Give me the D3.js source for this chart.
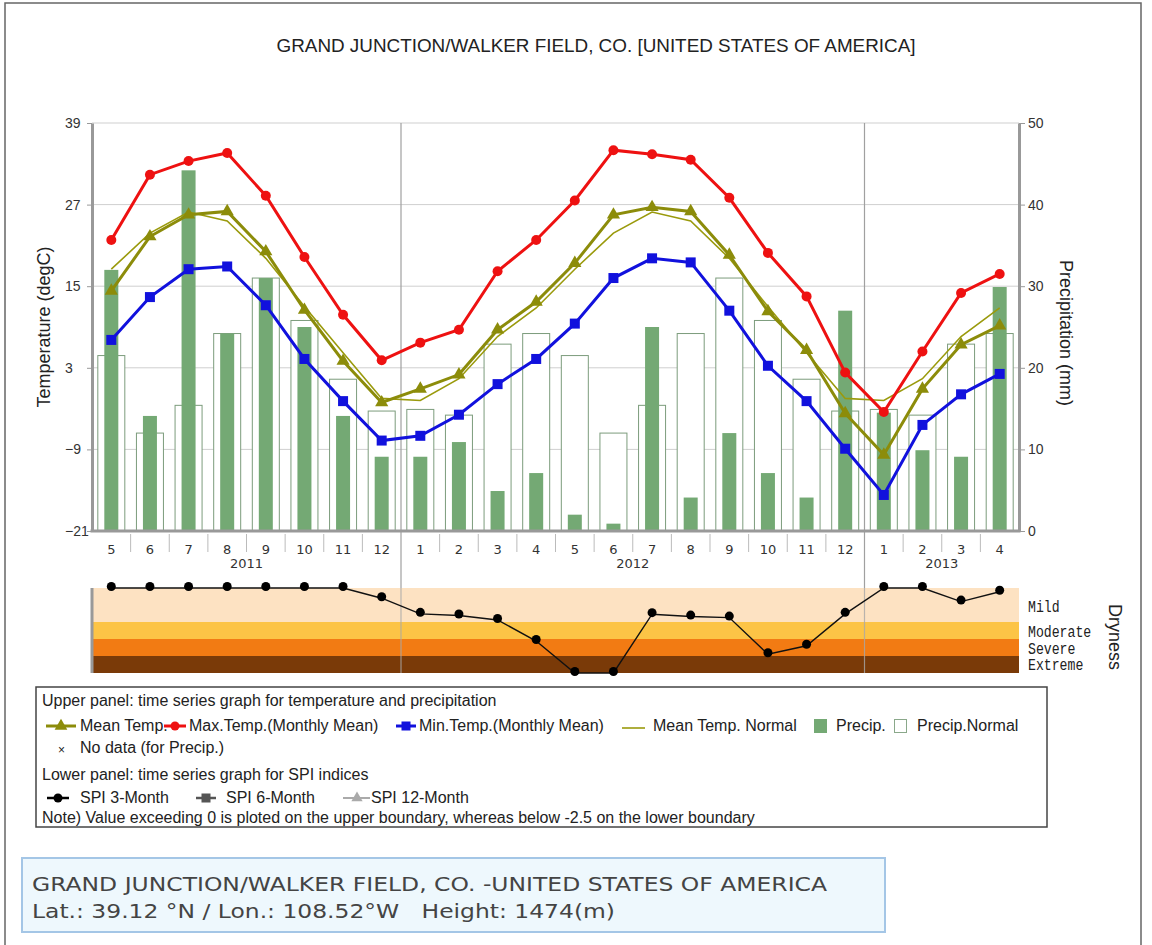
<!DOCTYPE html>
<html>
<head>
<meta charset="utf-8">
<script src="https://cdn.jsdelivr.net/npm/d3@7/dist/d3.min.js"></script>
<style>
  body { margin: 0; background: #fff; }
  svg { display: block; font-family: "Liberation Sans", Arial, sans-serif; }
</style>
</head>
<body>
<div id="chart"></div>
<script>
// ---- data ----
const periods = ["2011-05","2011-06","2011-07","2011-08","2011-09","2011-10","2011-11","2011-12",
  "2012-01","2012-02","2012-03","2012-04","2012-05","2012-06","2012-07","2012-08","2012-09","2012-10","2012-11","2012-12",
  "2013-01","2013-02","2013-03","2013-04"];
const years = ["2011", "2012", "2013"];

const maxTemp  = [21.8, 31.4, 33.4, 34.6, 28.3, 19.3, 10.8, 4.1, 6.7, 8.6, 17.2, 21.8, 27.6, 35.0, 34.4, 33.6, 28.0, 19.9, 13.5, 2.3, -3.5, 5.4, 14.0, 16.8];
const meanTemp = [14.3, 22.3, 25.5, 26.0, 20.1, 11.5, 4.0, -2.1, -0.1, 2.0, 8.6, 12.7, 18.4, 25.5, 26.6, 26.0, 19.6, 11.3, 5.6, -3.7, -9.8, -0.1, 6.4, 9.2];
const minTemp  = [7.1, 13.4, 17.5, 17.9, 12.2, 4.3, -1.9, -7.7, -7.0, -3.9, 0.6, 4.3, 9.5, 16.2, 19.1, 18.5, 11.4, 3.3, -1.9, -8.9, -15.7, -5.4, -0.9, 2.1];
// climatological normals, Jan..Dec
const meanTempNormal = [-1.8, 1.4, 7.6, 11.8, 17.5, 22.8, 25.9, 24.6, 19.1, 12.0, 5.2, -1.5];
const precip   = [32.0, 14.1, 44.2, 24.2, 31.0, 25.0, 14.1, 9.1, 9.1, 10.9, 4.9, 7.1, 2.0, 0.9, 25.0, 4.1, 12.0, 7.1, 4.1, 27.0, 14.5, 9.9, 9.1, 29.9];
const precipNormal = [14.9, 14.2, 22.9, 24.2, 21.5, 12.0, 15.4, 24.2, 31.0, 25.8, 18.6, 14.7];
const spi3 = [0, 0, 0, 0, 0, 0, 0, -0.30, -0.76, -0.81, -0.94, -1.56, -2.5, -2.5, -0.77, -0.84, -0.87, -1.95, -1.70, -0.76, 0, 0, -0.40, -0.11];

const tempTicks = [39, 27, 15, 3, -9, -21];
const precipTicks = [0, 10, 20, 30, 40, 50];
const dryClasses = ["Mild", "Moderate", "Severe", "Extreme"];
const dryBounds = [0, -1, -1.5, -2, -2.5];

// ---- layout ----
const W = 1152, H = 945;
const L = 92, R = 1019, T = 123, B = 531;
const spiTop = 588, spiBot = 673;

const month = p => +p.slice(5);

var svg = d3.select("#chart").append("svg")
  .attr("width", W)
  .attr("height", H);

var x = d3.scaleBand().domain(periods).range([L, R]);
var cx = p => x(p) + x.bandwidth() / 2;
var yT = d3.scaleLinear().domain([-21, 39]).range([B, T]);
var yP = d3.scaleLinear().domain([0, 50]).range([B, T]);
var yS = d3.scaleLinear().domain([-2.5, 0]).range([spiBot, spiTop]);

const rows = periods.map((p, i) => ({
  p: p, max: maxTemp[i], mean: meanTemp[i], min: minTemp[i],
  normal: meanTempNormal[month(p) - 1],
  pr: precip[i], prN: precipNormal[month(p) - 1],
  spi: Math.max(-2.5, Math.min(0, spi3[i]))
}));

// outer frame
svg.append("path")
  .attr("d", "M5," + H + "V3H1141V" + H)
  .attr("fill", "none").attr("stroke", "#666").attr("stroke-width", 1.5);

// title
svg.append("text")
  .attr("x", 596).attr("y", 52)
  .attr("text-anchor", "middle")
  .style("font-size", "17.5px").attr("fill", "#222")
  .attr("textLength", 639).attr("lengthAdjust", "spacingAndGlyphs")
  .text("GRAND JUNCTION/WALKER FIELD, CO. [UNITED STATES OF AMERICA]");

// horizontal grid
svg.append("g").selectAll("line")
  .data(tempTicks.slice(0, -1))
  .enter().append("line")
  .attr("x1", L).attr("x2", R)
  .attr("y1", d => yT(d)).attr("y2", d => yT(d))
  .attr("stroke", "#cfcfcf").attr("stroke-width", 1);

// precip normal (hollow) and precip (filled) bars
svg.append("g").selectAll("rect")
  .data(rows)
  .enter().append("rect")
  .attr("x", d => cx(d.p) - 13.5).attr("width", 27)
  .attr("y", d => yP(d.prN)).attr("height", d => B - yP(d.prN))
  .attr("fill", "#fff").attr("stroke", "#7c9c7c").attr("stroke-width", 1);

svg.append("g").selectAll("rect")
  .data(rows)
  .enter().append("rect")
  .attr("x", d => cx(d.p) - 7).attr("width", 14)
  .attr("y", d => yP(d.pr)).attr("height", d => B - yP(d.pr))
  .attr("fill", "#74a974");

// year separators through both panels
var newYear = periods.filter(p => month(p) === 1);
svg.append("g").selectAll("line")
  .data(newYear)
  .enter().append("line")
  .attr("x1", d => x(d)).attr("x2", d => x(d))
  .attr("y1", T).attr("y2", spiBot)
  .attr("stroke", "#a0a0a0").attr("stroke-width", 1.2);

// temperature lines
var line = key => d3.line().x(d => cx(d.p)).y(d => yT(d[key]));

svg.append("path").datum(rows)
  .attr("d", line("normal"))
  .attr("fill", "none").attr("stroke", "#9a9a0c").attr("stroke-width", 1.6);

svg.append("path").datum(rows)
  .attr("d", line("mean"))
  .attr("fill", "none").attr("stroke", "#8c8c0a").attr("stroke-width", 3);
svg.append("g").selectAll("path")
  .data(rows)
  .enter().append("path")
  .attr("d", d3.symbol(d3.symbolTriangle, 75))
  .attr("transform", d => "translate(" + cx(d.p) + "," + yT(d.mean) + ")")
  .attr("fill", "#8c8c0a");

svg.append("path").datum(rows)
  .attr("d", line("max"))
  .attr("fill", "none").attr("stroke", "#ee1111").attr("stroke-width", 3);
svg.append("g").selectAll("circle")
  .data(rows)
  .enter().append("circle")
  .attr("cx", d => cx(d.p)).attr("cy", d => yT(d.max)).attr("r", 5)
  .attr("fill", "#ee1111");

svg.append("path").datum(rows)
  .attr("d", line("min"))
  .attr("fill", "none").attr("stroke", "#1111dd").attr("stroke-width", 3);
svg.append("g").selectAll("rect")
  .data(rows)
  .enter().append("rect")
  .attr("x", d => cx(d.p) - 5).attr("y", d => yT(d.min) - 5)
  .attr("width", 10).attr("height", 10)
  .attr("fill", "#1111dd");

// left axis
var gl = svg.append("g")
  .attr("transform", "translate(" + L + ",0)")
  .call(d3.axisLeft(yT).tickValues(tempTicks).tickSize(5).tickSizeOuter(0));
gl.select(".domain").attr("stroke", "#999").attr("stroke-width", 3);
gl.selectAll(".tick line").attr("stroke", "#999");
gl.selectAll("text")
  .attr("text-anchor", "start").attr("x", -27)
  .style("font-size", "14px").style("font-family", "'Liberation Sans', Arial").attr("fill", "#333");

// right axis
var gr = svg.append("g")
  .attr("transform", "translate(" + R + ",0)")
  .call(d3.axisRight(yP).tickValues(precipTicks).tickSize(6).tickPadding(3).tickSizeOuter(0));
gr.select(".domain").attr("stroke", "#999").attr("stroke-width", 3);
gr.selectAll(".tick line").attr("stroke", "#999");
gr.selectAll("text")
  .style("font-size", "14px").style("font-family", "'Liberation Sans', Arial").attr("fill", "#333");

// bottom axis: month labels, boundary ticks, years
svg.append("line")
  .attr("x1", L - 1.5).attr("x2", R + 1.5).attr("y1", B).attr("y2", B)
  .attr("stroke", "#999").attr("stroke-width", 3);

svg.append("g").selectAll("line")
  .data(periods.slice(1).filter(p => month(p) !== 1))
  .enter().append("line")
  .attr("x1", d => x(d)).attr("x2", d => x(d))
  .attr("y1", B + 3).attr("y2", B + 21)
  .attr("stroke", "#bbb");

svg.append("g").selectAll("text")
  .data(periods)
  .enter().append("text")
  .attr("x", d => cx(d)).attr("y", 554)
  .attr("text-anchor", "middle")
  .style("font-family", "'DejaVu Sans', Verdana, sans-serif").style("font-size", "13px")
  .attr("fill", "#333")
  .text(d => month(d));

svg.append("g").selectAll("text")
  .data(years)
  .enter().append("text")
  .attr("x", y => {
    var ps = periods.filter(p => p.slice(0, 4) === y);
    return (x(ps[0]) + x(ps[ps.length - 1]) + x.bandwidth()) / 2;
  })
  .attr("y", 568)
  .attr("text-anchor", "middle")
  .style("font-family", "'DejaVu Sans', Verdana, sans-serif").style("font-size", "13px")
  .attr("fill", "#333")
  .text(d => d);

// axis titles
svg.append("text")
  .attr("transform", "translate(50," + (T + B) / 2 + ") rotate(-90)")
  .attr("text-anchor", "middle")
  .style("font-size", "18px").attr("fill", "#222")
  .text("Temperature (degC)");
svg.append("text")
  .attr("transform", "translate(1060," + ((T + B) / 2 + 6) + ") rotate(90)")
  .attr("text-anchor", "middle")
  .style("font-size", "18px").attr("fill", "#222")
  .text("Precipitation (mm)");

// ---- SPI panel ----
var bandColors = ["#fde2c2", "#fcc446", "#f27b13", "#7a3a08"];
svg.append("g").selectAll("rect")
  .data(dryClasses)
  .enter().append("rect")
  .attr("x", L).attr("width", R - L)
  .attr("y", (d, i) => yS(dryBounds[i]))
  .attr("height", (d, i) => yS(dryBounds[i + 1]) - yS(dryBounds[i]))
  .attr("fill", (d, i) => bandColors[i]);

svg.append("g").selectAll("line")
  .data(newYear)
  .enter().append("line")
  .attr("x1", d => x(d)).attr("x2", d => x(d))
  .attr("y1", spiTop).attr("y2", spiBot)
  .attr("stroke", "#a8a8a8").attr("stroke-opacity", 0.8).attr("stroke-width", 1.2);

svg.append("line")
  .attr("x1", L).attr("x2", L).attr("y1", spiTop).attr("y2", spiBot)
  .attr("stroke", "#999").attr("stroke-width", 3);

svg.append("path").datum(rows)
  .attr("d", d3.line().x(d => cx(d.p)).y(d => yS(d.spi)))
  .attr("fill", "none").attr("stroke", "#111").attr("stroke-width", 1.4);
svg.append("g").selectAll("circle")
  .data(rows)
  .enter().append("circle")
  .attr("cx", d => cx(d.p)).attr("cy", d => yS(d.spi) - 1.5).attr("r", 4.5)
  .attr("fill", "#000");

var dryY = [612, 637, 654, 670];
svg.append("g").selectAll("text")
  .data(dryClasses)
  .enter().append("text")
  .attr("x", 1028).attr("y", (d, i) => dryY[i])
  .style("font-family", "'Liberation Mono', 'DejaVu Sans Mono', monospace").style("font-size", "16px")
  .attr("textLength", d => d.length * 7.9).attr("lengthAdjust", "spacingAndGlyphs")
  .attr("fill", "#222")
  .text(d => d);

svg.append("text")
  .attr("transform", "translate(1109,637) rotate(90)")
  .attr("text-anchor", "middle")
  .style("font-size", "18px").attr("fill", "#222")
  .text("Dryness");

// ---- legend box ----
var lg = svg.append("g").style("font-size", "16px").attr("fill", "#222");
lg.append("rect")
  .attr("x", 36).attr("y", 687).attr("width", 1011).attr("height", 140)
  .attr("fill", "#fff").attr("stroke", "#444").attr("stroke-width", 1.5);

lg.append("text").attr("x", 42).attr("y", 706).text("Upper panel: time series graph for temperature and precipitation");

function lineIcon(x1, x2, y, color, sw) {
  lg.append("line").attr("x1", x1).attr("x2", x2).attr("y1", y).attr("y2", y)
    .attr("stroke", color).attr("stroke-width", sw);
}
var r2 = 726;
lineIcon(46, 76, r2, "#8c8c0a", 3);
lg.append("path").attr("d", d3.symbol(d3.symbolTriangle, 70)).attr("transform", "translate(61," + r2 + ")").attr("fill", "#8c8c0a");
lg.append("text").attr("x", 80).attr("y", r2 + 5).text("Mean Temp.");
lineIcon(164, 186, r2, "#ee1111", 3);
lg.append("circle").attr("cx", 175).attr("cy", r2).attr("r", 4.5).attr("fill", "#ee1111");
lg.append("text").attr("x", 189).attr("y", r2 + 5).text("Max.Temp.(Monthly Mean)");
lineIcon(396, 416, r2, "#1111dd", 3);
lg.append("rect").attr("x", 401.5).attr("y", r2 - 4.5).attr("width", 9).attr("height", 9).attr("fill", "#1111dd");
lg.append("text").attr("x", 419).attr("y", r2 + 5).text("Min.Temp.(Monthly Mean)");
lineIcon(622, 645, r2 + 2, "#9a9a0c", 1.6);
lg.append("text").attr("x", 653).attr("y", r2 + 5).text("Mean Temp. Normal");
lg.append("rect").attr("x", 814).attr("y", r2 - 7).attr("width", 13).attr("height", 14).attr("fill", "#74a974");
lg.append("text").attr("x", 836).attr("y", r2 + 5).text("Precip.");
lg.append("rect").attr("x", 894.5).attr("y", r2 - 6.5).attr("width", 12).attr("height", 13).attr("fill", "#fff").attr("stroke", "#8aa88a");
lg.append("text").attr("x", 917).attr("y", r2 + 5).text("Precip.Normal");

lg.append("text").attr("x", 58).attr("y", 754).style("font-size", "12px").text("×");
lg.append("text").attr("x", 80).attr("y", 753).text("No data (for Precip.)");

lg.append("text").attr("x", 42).attr("y", 780).text("Lower panel: time series graph for SPI indices");

var r5 = 798;
lineIcon(47, 69, r5, "#000", 2.5);
lg.append("circle").attr("cx", 58).attr("cy", r5).attr("r", 4.5).attr("fill", "#000");
lg.append("text").attr("x", 80).attr("y", r5 + 5).text("SPI 3-Month");
lineIcon(196, 216, r5, "#555", 2.5);
lg.append("rect").attr("x", 201.5).attr("y", r5 - 4.5).attr("width", 9).attr("height", 9).attr("fill", "#555");
lg.append("text").attr("x", 226).attr("y", r5 + 5).text("SPI 6-Month");
lineIcon(343, 370, r5, "#aaa", 2);
lg.append("path").attr("d", d3.symbol(d3.symbolTriangle, 55)).attr("transform", "translate(357," + r5 + ")").attr("fill", "#aaa");
lg.append("text").attr("x", 371).attr("y", r5 + 5).text("SPI 12-Month");

lg.append("text").attr("x", 42).attr("y", 823).text("Note) Value exceeding 0 is ploted on the upper boundary, whereas below -2.5 on the lower boundary");

// ---- station info box ----
svg.append("rect")
  .attr("x", 22).attr("y", 858).attr("width", 863).attr("height", 74)
  .attr("fill", "#eef8fd").attr("stroke", "#a4c6e6").attr("stroke-width", 2);
svg.append("text")
  .attr("x", 32).attr("y", 891)
  .style("font-family", "'DejaVu Sans', Tahoma, sans-serif").style("font-size", "19px")
  .attr("textLength", 795).attr("lengthAdjust", "spacingAndGlyphs")
  .attr("fill", "#444")
  .text("GRAND JUNCTION/WALKER FIELD, CO. -UNITED STATES OF AMERICA");
svg.append("text")
  .attr("x", 32).attr("y", 918)
  .style("font-family", "'DejaVu Sans', Tahoma, sans-serif").style("font-size", "19px")
  .style("white-space", "pre")
  .attr("textLength", 583).attr("lengthAdjust", "spacingAndGlyphs")
  .attr("fill", "#444")
  .text("Lat.: 39.12 °N / Lon.: 108.52°W   Height: 1474(m)");
</script>
</body>
</html>
